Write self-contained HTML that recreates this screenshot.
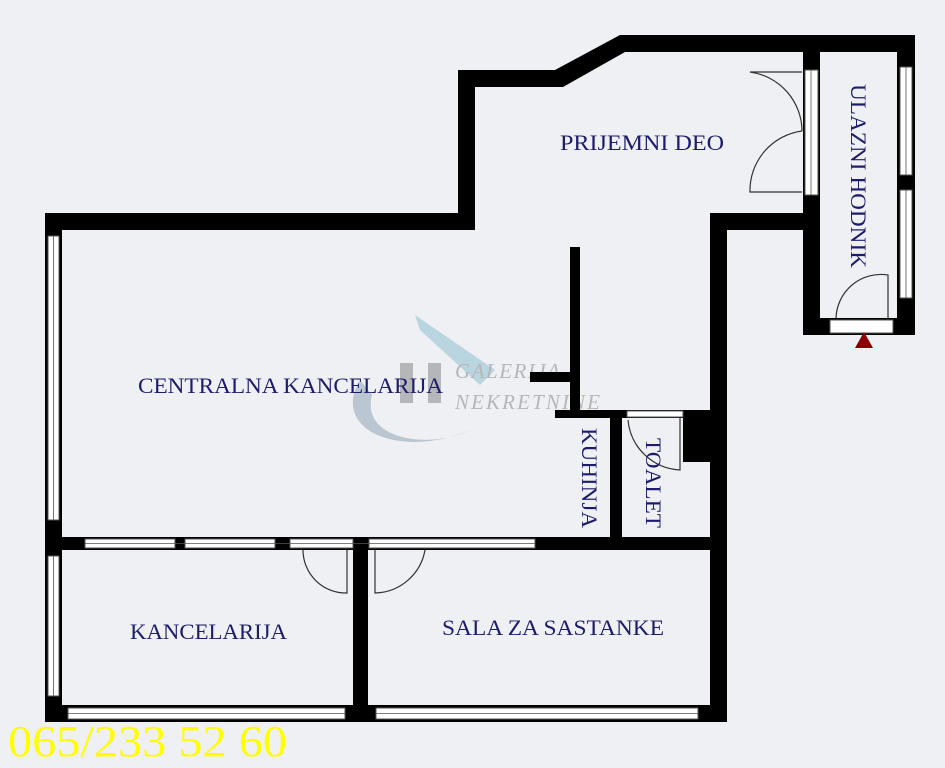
<!DOCTYPE html>
<html><head><meta charset="utf-8"><style>
body{margin:0;background:#eef0f3;}
svg{display:block}
.t{font-family:"Liberation Serif",serif;fill:#1c1c6b;font-size:22px}
</style></head><body>
<svg width="945" height="768" viewBox="0 0 945 768" xmlns="http://www.w3.org/2000/svg">
<rect width="945" height="768" fill="#eef0f3"/>
<g opacity="0.55">
<path d="M415 315 L495 370 L480 385 L420 330 Z" fill="#8fbfd0"/>
<path d="M360 380 C330 430 400 460 470 430 C430 450 360 440 372 395 Z" fill="#8fa4b5"/>
<rect x="400" y="363" width="13" height="40" fill="#888"/>
<rect x="428" y="363" width="13" height="40" fill="#888"/>
<text x="455" y="378" font-family="Liberation Serif,serif" font-style="italic" font-size="21" fill="#888" textLength="105">GALERIJA</text>
<text x="455" y="409" font-family="Liberation Serif,serif" font-style="italic" font-size="21" fill="#888" textLength="145">NEKRETNINE</text>
</g>
<g fill="#000">
<rect x="45" y="213" width="430" height="17"/>
<rect x="458" y="70" width="17" height="160"/>
<rect x="458" y="70" width="105" height="17"/>
<polygon points="555,70 620,35 625,52 563,87"/>
<rect x="620" y="35" width="295" height="17"/>
<rect x="897" y="35" width="18" height="300"/>
<rect x="803" y="35" width="17" height="300"/>
<rect x="803" y="318" width="112" height="17"/>
<rect x="710" y="213" width="110" height="17"/>
<rect x="710" y="213" width="17" height="507"/>
<rect x="45" y="213" width="17" height="509"/>
<rect x="45" y="705" width="682" height="17"/>
<rect x="45" y="537" width="682" height="13"/>
<rect x="353" y="537" width="15" height="185"/>
<rect x="570" y="247" width="10" height="170"/>
<rect x="530" y="372" width="50" height="10"/>
<rect x="555" y="410" width="172" height="8"/>
<rect x="610" y="410" width="12" height="135"/>
<rect x="683" y="410" width="44" height="52"/>
</g>
<g fill="#fff" stroke="#555" stroke-width="1">
<rect x="48" y="236" width="11" height="284"/>
<rect x="48" y="556" width="11" height="140"/>
<rect x="68" y="708" width="277" height="11"/>
<rect x="376" y="708" width="322" height="11"/>
<rect x="85" y="539" width="90" height="9"/>
<rect x="185" y="539" width="90" height="9"/>
<rect x="290" y="539" width="63" height="9"/>
<rect x="369" y="539" width="166" height="9"/>
<rect x="900" y="67" width="12" height="108"/>
<rect x="900" y="190" width="12" height="108"/>
<rect x="805" y="70" width="13" height="125"/>
<rect x="830" y="320" width="63" height="13"/>
<rect x="627" y="411" width="56" height="6"/>
</g>
<g stroke="#555" stroke-width="0.8" fill="none">
<line x1="53.5" y1="236" x2="53.5" y2="520"/><line x1="53.5" y1="556" x2="53.5" y2="696"/>
<line x1="68" y1="713.5" x2="345" y2="713.5"/><line x1="376" y1="713.5" x2="698" y2="713.5"/>
<line x1="906" y1="67" x2="906" y2="175"/><line x1="906" y1="190" x2="906" y2="298"/>
<line x1="811" y1="70" x2="811" y2="195"/>
<line x1="85" y1="543.5" x2="535" y2="543.5"/>
</g>
<g stroke="#333" stroke-width="1.2" fill="none">
<path d="M347 550 L347 593 A43 43 0 0 1 303 550"/>
<path d="M375 550 L375 593 A52 52 0 0 0 425 550"/>
<path d="M802 72 L750 72 A60 60 0 0 1 802 131"/>
<path d="M802 192 L750 192 A60 60 0 0 1 802 131"/>
<path d="M888 318 L888 275 A45 45 0 0 0 836 318"/>
<path d="M680 418 L680 470 A55 55 0 0 1 628 420"/>
</g>
<polygon points="864,332 855,348 873,348" fill="#8b0000"/>
<text class="t" x="138" y="393" textLength="305" lengthAdjust="spacingAndGlyphs">CENTRALNA KANCELARIJA</text>
<text class="t" x="560" y="150" textLength="164" lengthAdjust="spacingAndGlyphs">PRIJEMNI DEO</text>
<text class="t" x="130" y="639" textLength="157" lengthAdjust="spacingAndGlyphs">KANCELARIJA</text>
<text class="t" x="442" y="635" textLength="222" lengthAdjust="spacingAndGlyphs">SALA ZA SASTANKE</text>
<text class="t" transform="translate(851,84) rotate(90)" textLength="184" lengthAdjust="spacingAndGlyphs">ULAZNI HODNIK</text>
<text class="t" transform="translate(582,428) rotate(90)" textLength="100" lengthAdjust="spacingAndGlyphs">KUHINJA</text>
<text class="t" transform="translate(646,438) rotate(90)" textLength="90" lengthAdjust="spacingAndGlyphs">TOALET</text>
<text x="8" y="756" font-family="Liberation Serif,serif" font-size="44" fill="#ffff00" textLength="279" lengthAdjust="spacingAndGlyphs">065/233 52 60</text>
</svg>
</body></html>
